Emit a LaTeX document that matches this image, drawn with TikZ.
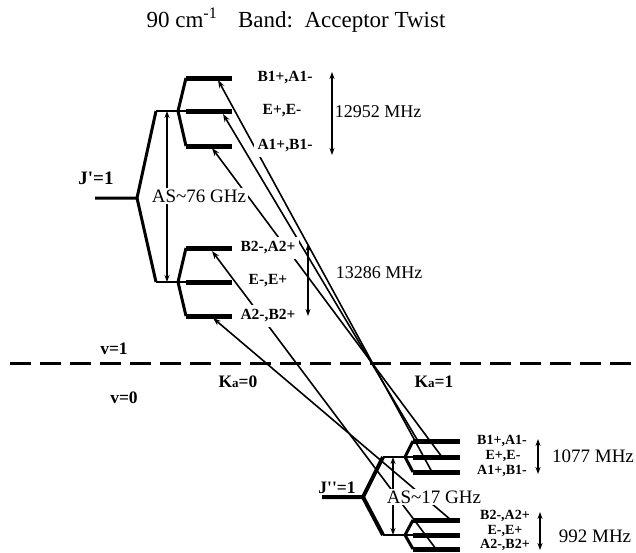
\documentclass[tikz,border=0pt]{standalone}
\usepackage{fontspec}
\setmainfont{Liberation Serif}
\usetikzlibrary{arrows.meta}
\begin{document}
\begin{tikzpicture}[x=1pt,y=-1pt,
  lev/.style={line width=5pt},
  thinlev/.style={line width=2pt},
  br/.style={line width=3pt, line join=round},
  lbr/.style={line width=4pt, line join=round},
  trans/.style={line width=1.6pt,-{Stealth[length=8pt,width=5.5pt]}},
  dbl/.style={line width=1.4pt,{Stealth[length=7pt,width=5pt]}-{Stealth[length=7pt,width=5pt]}},
  lab/.style={font=\bfseries\fontsize{15.5}{15.5}\selectfont, fill=white, inner xsep=4pt, inner ysep=5pt},
  slab/.style={font=\bfseries\fontsize{14}{14}\selectfont, fill=white, inner sep=0.3pt},
  bl/.style={font=\bfseries\fontsize{17.5}{17.5}\selectfont, inner sep=1pt},
  txt/.style={font=\fontsize{18}{18}\selectfont, inner sep=1pt},
  wtxt/.style={font=\fontsize{19}{19}\selectfont, fill=white, inner sep=1.5pt},
  ]
\useasboundingbox (0,0) rectangle (636,552);

% title
\node[font=\fontsize{23}{23}\selectfont] (title) at (296,20) {90 cm\textsuperscript{-1}\hspace{0.9em}Band:\hspace{0.5em}Acceptor Twist};

% ---------- coordinates: upper state J'=1
\coordinate (Jps) at (95,198);
\coordinate (Jp) at (137,198);
\coordinate (Up) at (156,111);
\coordinate (UpR) at (178,111);
\coordinate (Lo) at (156,282);
\coordinate (LoR) at (178,282);
\coordinate (u1L) at (186,78);  \coordinate (u1R) at (232,78);
\coordinate (u2L) at (186,111); \coordinate (u2R) at (232,111);
\coordinate (u3L) at (186,146); \coordinate (u3R) at (232,146);
\coordinate (l1L) at (186,248); \coordinate (l1R) at (232,248);
\coordinate (l2L) at (186,282); \coordinate (l2R) at (232,282);
\coordinate (l3L) at (186,316); \coordinate (l3R) at (232,316);

% ---------- coordinates: lower state J''=1
\coordinate (Jdps) at (322,497);
\coordinate (Jdp) at (363,497);
\coordinate (dUp) at (383,457);
\coordinate (dUpR) at (405,457);
\coordinate (dLo) at (383,535);
\coordinate (dLoR) at (405,535);
\coordinate (a1L) at (413,441); \coordinate (a1R) at (460,441);
\coordinate (a2L) at (413,457); \coordinate (a2R) at (460,457);
\coordinate (a3L) at (413,472); \coordinate (a3R) at (460,472);
\coordinate (b1L) at (413,520); \coordinate (b1R) at (460,520);
\coordinate (b2L) at (413,535); \coordinate (b2R) at (460,535);
\coordinate (b3L) at (413,549); \coordinate (b3R) at (460,549);

% ---------- transitions (tips on upper levels, tails on lower levels)
\coordinate (tA) at (218,80);  \coordinate (sA) at (432,472);
\coordinate (tB) at (223,114); \coordinate (sB) at (418,441);
\coordinate (tC) at (212,148); \coordinate (sC) at (442,457);
\coordinate (tE) at (212,251); \coordinate (sE) at (436,549);
\coordinate (tD) at (213,318); \coordinate (sD) at (451,520);
\draw[trans] (sA) -- (tA);
\draw[trans] (sB) -- (tB);
\draw[trans] (sC) -- (tC);
\draw[trans] (sE) -- (tE);
\draw[trans] (sD) -- (tD);

% ---------- dashed separator
\coordinate (dashL) at (10,363);
\coordinate (dashR) at (632,363);
\draw[line width=3pt, dash pattern=on 21pt off 9pt] (dashL) -- (dashR);

% ---------- upper-state level scheme
\draw[br] (Jps) -- (Jp) -- (Up);
\draw[br] (Jp) -- (Lo);
\draw[thinlev] (Up) -- (u2L);
\draw[thinlev] (Lo) -- (l2L);
\draw[br] (UpR) -- (u1L);
\draw[br] (UpR) -- (u3L);
\draw[br] (LoR) -- (l1L);
\draw[br] (LoR) -- (l3L);
\draw[lev] (u1L) -- (u1R);
\draw[lev] (u2L) -- (u2R);
\draw[lev] (u3L) -- (u3R);
\draw[lev] (l1L) -- (l1R);
\draw[lev] (l2L) -- (l2R);
\draw[lev] (l3L) -- (l3R);

% ---------- lower-state level scheme
\draw[lbr] (Jdps) -- (Jdp) -- (dUp);
\draw[lbr] (Jdp) -- (dLo);
\draw[line width=2.5pt] (dUp) -- (a2L);
\draw[line width=2.5pt] (dLo) -- (b2L);
\draw[br] (dUpR) -- (a1L);
\draw[br] (dUpR) -- (a3L);
\draw[br] (dLoR) -- (b1L);
\draw[br] (dLoR) -- (b3L);
\draw[lev] (a1L) -- (a1R);
\draw[lev] (a2L) -- (a2R);
\draw[lev] (a3L) -- (a3R);
\draw[lev] (b1L) -- (b1R);
\draw[lev] (b2L) -- (b2R);
\draw[lev] (b3L) -- (b3R);

% ---------- splitting arrows
\coordinate (asT) at (167,111); \coordinate (asB) at (167,282);
\draw[dbl] (asT) -- (asB);
\node[wtxt] (as76) at (199,196) {AS\textasciitilde 76 GHz};

\coordinate (s1T) at (332,72); \coordinate (s1B) at (332,155);
\draw[dbl] (s1T) -- (s1B);
\node[txt] (f1) at (378,112) {12952 MHz};

\coordinate (s2T) at (308,244); \coordinate (s2B) at (308,316);
\draw[dbl] (s2T) -- (s2B);
\node[txt] (f2) at (379,273) {13286 MHz};

\coordinate (dasT) at (393,457); \coordinate (dasB) at (393,535);
\draw[dbl] (dasT) -- (dasB);
\node[wtxt] (as17) at (434,497) {AS\textasciitilde 17 GHz};

\coordinate (s3T) at (538,439); \coordinate (s3B) at (538,474);
\draw[dbl] (s3T) -- (s3B);
\node[txt, font=\fontsize{19}{19}\selectfont] (f3) at (593,456) {1077 MHz};

\coordinate (s4T) at (540,512); \coordinate (s4B) at (540,550);
\draw[dbl] (s4T) -- (s4B);
\node[txt, font=\fontsize{19}{19}\selectfont] (f4) at (595,536) {992 MHz};

% ---------- level labels (upper state)
\node[lab] (nB1) at (285,78) {B1+,A1-};
\node[lab] (nE1) at (282,111) {E+,E-};
\node[lab] (nA1) at (285,146) {A1+,B1-};
\node[lab] (nB2) at (268,248) {B2-,A2+};
\node[lab] (nE2) at (268,281) {E-,E+};
\node[lab] (nA2) at (268,316) {A2-,B2+};

% ---------- level labels (lower state)
\node[slab] (mB1) at (502,441) {B1+,A1-};
\node[slab] (mE1) at (503,456) {E+,E-};
\node[slab] (mA1) at (502,471) {A1+,B1-};
\node[slab] (mB2) at (505,516) {B2-,A2+};
\node[slab] (mE2) at (505,530.5) {E-,E+};
\node[slab] (mA2) at (505,544.5) {A2-,B2+};

% ---------- other labels
\node[bl, font=\bfseries\fontsize{19}{19}\selectfont] (jp) at (96,178) {J\textquotesingle=1};
\node[bl] (jdp) at (337,488) {J\textquotesingle\textquotesingle=1};
\node[bl] (v1) at (114,349) {v=1};
\node[bl] (v0) at (124,398) {v=0};
\node[bl] (ka0) at (238,382) {K{\fontsize{13}{13}\selectfont a}=0};
\node[bl] (ka1) at (434,382) {K{\fontsize{13}{13}\selectfont a}=1};
\end{tikzpicture}
\end{document}
